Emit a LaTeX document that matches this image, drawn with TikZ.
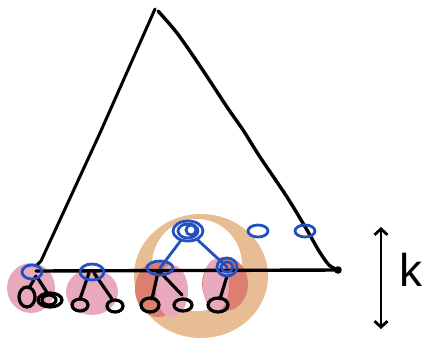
\documentclass[tikz,border=0pt]{standalone}
\usepackage{fontspec}
\setmainfont{Liberation Sans}
\usetikzlibrary{arrows.meta,calc}
\definecolor{ringorange}{HTML}{E9BD93}
\definecolor{blobpink}{HTML}{E8A9BD}
\definecolor{blobred}{HTML}{DC7F70}
\definecolor{penblue}{HTML}{2150C2}
\tikzset{
  ink/.style={line width=3.4pt, line cap=round, line join=round, black},
  blueink/.style={line width=2.8pt, line cap=round, penblue},
  leaf/.style={line width=3.2pt, line cap=round, black},
}
\begin{document}
\begin{tikzpicture}[x=1pt,y=-1pt]
\useasboundingbox (0,0) rectangle (431,341);
% orange ring
\fill[ringorange] (201,276) ellipse [x radius=67, y radius=62];
\fill[white] (197,265) ellipse [x radius=45, y radius=46];
% red blobs
\fill[blobred] (158,289) ellipse [x radius=23, y radius=28];
\fill[blobred] (225,284) ellipse [x radius=23, y radius=27];
% pink blobs
\fill[blobpink] (31,288) ellipse [x radius=24, y radius=25];
\fill[blobpink] (92,292) ellipse [x radius=26, y radius=23];
\fill[blobpink] (172,291) ellipse [x radius=16, y radius=26];
\fill[blobpink] (216,285) ellipse [x radius=13, y radius=26];
% named positions
\coordinate (apex) at (155,9);
\coordinate (bl) at (36,271);
\coordinate (br) at (338,270);
\coordinate (b1) at (32,272);
\coordinate (b2) at (92,272);
\coordinate (b3) at (160,268);
\coordinate (b4) at (227,267);
\coordinate (top) at (188,231);
\coordinate (s1) at (258,231);
\coordinate (s2) at (305,231);
\coordinate (l1) at (27,297);
\coordinate (l2) at (50,300);
\coordinate (l3) at (80,305);
\coordinate (l4) at (115,306);
\coordinate (l5) at (150,305);
\coordinate (l6) at (183,305);
\coordinate (l7) at (218,305);
% triangle
\draw[ink, line width=3pt] (apex) -- (100,133) -- (41,261) -- (36,266);
\draw[ink] plot[smooth, tension=0.5] coordinates {(158,11) (177,33) (200,66) (227,107) (243,130) (260,157) (287,197) (307,230) (319,251) (329,265) (338,270)};
\draw[ink] (bl) -- (br);
\fill (br) circle (3.8);
% children lines
\draw[leaf] ($(b1)+(4,4)$) -- ($(l1)+(2,-9)$);
\draw[leaf] ($(b1)+(5,5)$) -- ($(l2)+(-2,-6)$);
\draw[leaf] ($(b2)+(-3,1)$) -- ($(l3)+(0,-6)$);
\draw[leaf] ($(b2)+(2,1)$) -- ($(l4)+(-3,-7)$);
\draw[leaf] ($(b3)+(-2,4)$) -- ($(l5)+(2,-6)$);
\draw[leaf] ($(b3)+(0,4)$) -- ($(l6)+(-1,-10)$);
\draw[leaf] ($(b4)+(0,9)$) -- ($(l7)+(2,-6)$);
% leaves
\draw[leaf] (l1) ellipse [x radius=8, y radius=10];
\draw[leaf] (l2) ellipse [x radius=12, y radius=7];
\draw[leaf] (49,300) ellipse [x radius=7, y radius=5];
\draw[leaf] (l3) ellipse [x radius=8, y radius=6];
\draw[leaf] (l4) ellipse [x radius=8, y radius=6];
\draw[leaf] (l5) ellipse [x radius=9, y radius=7];
\draw[leaf] (l6) ellipse [x radius=9, y radius=6];
\draw[leaf] (l7) ellipse [x radius=10, y radius=7];
% blue tree edges
\draw[blueink] (top) -- (b3);
\draw[blueink] (top) -- (b4);
% blue circles
\draw[blueink] (b1) ellipse [x radius=10, y radius=7];
\draw[blueink] (b2) ellipse [x radius=12, y radius=8];
\draw[blueink] (b3) ellipse [x radius=13, y radius=7];
\draw[blueink] (b4) ellipse [x radius=10, y radius=9];
\draw[blueink] (b4) ellipse [x radius=6, y radius=5];
\draw[blueink, fill=white] (top) ellipse [x radius=15, y radius=10];
\draw[blueink] (top) ellipse [x radius=10, y radius=7];
\draw[blueink] (191,230) ellipse [x radius=5, y radius=5];
\draw[blueink] (s1) ellipse [x radius=10, y radius=6];
\draw[blueink] (s2) ellipse [x radius=10, y radius=6];
% height arrow
\coordinate (ha) at (381,227);
\coordinate (hb) at (381,329);
\draw[ink, line width=2.8pt, {Straight Barb[length=6pt,width=13pt]}-{Straight Barb[length=6pt,width=13pt]}] (ha) -- (hb);
\node[font=\fontsize{46}{46}\selectfont, inner sep=0pt] (k) at (411,270) {k};
\end{tikzpicture}
\end{document}
